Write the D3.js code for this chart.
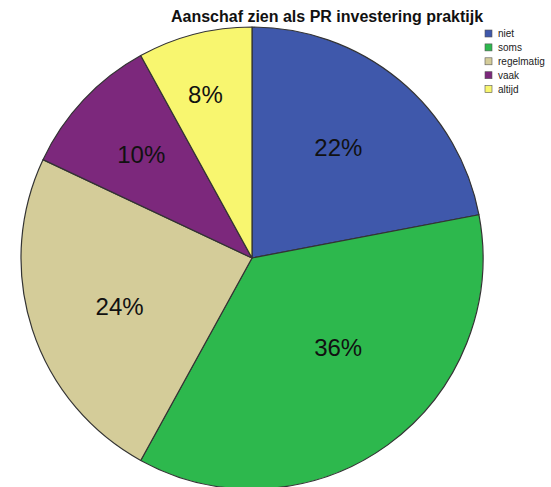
<!DOCTYPE html>
<html>
<head>
<meta charset="utf-8">
<script src="https://cdn.jsdelivr.net/npm/d3@7"></script>
<style>
  body { margin: 0; background: #fff; }
  text { font-family: "Liberation Sans", Arial, sans-serif; }
</style>
</head>
<body>
<div class="main_area"></div>
<script>
// chart data
const categories = ["niet", "soms", "regelmatig", "vaak", "altijd"];
const percentages = [22, 36, 24, 10, 8];
const sliceColors = ["#3f58ab", "#2db84d", "#d4cc99", "#7c287c", "#f8f66f"];

// label placement (fraction of radius, angle shift in degrees)
const labelRadius = [0.606, 0.537, 0.61, 0.658, 0.736];
const labelShift = [-1.5, -8, -2, 0, -1.5];

function drawPie() {
  const width = 551, height = 487;
  const cx = 252, cy = 258, radius = 231;

  const svg = d3.select(".main_area")
    .append("svg")
    .attr("width", width)
    .attr("height", height);

  svg.append("text")
    .attr("x", 327)
    .attr("y", 22)
    .attr("text-anchor", "middle")
    .style("font-size", "16px")
    .style("font-weight", "bold")
    .attr("fill", "#111")
    .text("Aanschaf zien als PR investering praktijk");

  const pie = d3.pie().sort(null).value(d => d);
  const arcs = pie(percentages);

  const arc = d3.arc().innerRadius(0).outerRadius(radius);

  const g = svg.append("g")
    .attr("transform", "translate(" + [cx, cy] + ")");

  g.selectAll("path")
    .data(arcs)
    .enter().append("path")
      .attr("d", arc)
      .attr("fill", (d, i) => sliceColors[i])
      .attr("stroke", "#333")
      .attr("stroke-width", 1.2)
      .attr("stroke-linejoin", "round");

  g.selectAll("text.lbl")
    .data(arcs)
    .enter().append("text")
      .attr("class", "lbl")
      .attr("transform", (d, i) => {
        const a = (d.startAngle + d.endAngle) / 2 + labelShift[i] * Math.PI / 180;
        const r = radius * labelRadius[i];
        return "translate(" + [r * Math.sin(a), -r * Math.cos(a)] + ")";
      })
      .attr("text-anchor", "middle")
      .attr("dy", "0.36em")
      .style("font-size", "24px")
      .attr("fill", "#111")
      .text(d => d.data + "%");

  // legend
  const legend = svg.append("g")
    .attr("transform", "translate(485,30)");

  const rows = legend.selectAll("g")
    .data(categories)
    .enter().append("g")
      .attr("transform", (d, i) => "translate(0," + (i * 13.9) + ")");

  rows.append("rect")
    .attr("width", 7)
    .attr("height", 7)
    .attr("fill", (d, i) => sliceColors[i])
    .attr("stroke", "#555")
    .attr("stroke-width", 0.6);

  rows.append("text")
    .attr("x", 13)
    .attr("y", 7)
    .style("font-size", "10px")
    .attr("fill", "#222")
    .text(d => d);
}

drawPie();
</script>
</body>
</html>
